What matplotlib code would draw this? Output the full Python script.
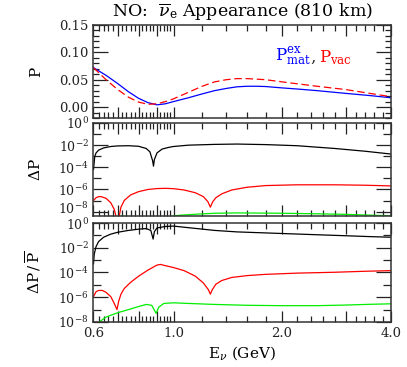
import numpy as np
import matplotlib
matplotlib.use("Agg")
import matplotlib.pyplot as plt
from matplotlib.ticker import FixedLocator, NullFormatter, FuncFormatter

plt.rcParams['font.family'] = 'DejaVu Serif'
plt.rcParams['mathtext.fontset'] = 'dejavuserif'

# panel 1: probabilities
E_p = [0.60, 0.65, 0.70, 0.75, 0.80, 0.85, 0.90, 0.95, 1.00, 1.10, 1.20, 1.30,
       1.40, 1.50, 1.60, 1.70, 1.80, 2.00, 2.20, 2.50, 3.00, 3.50, 4.00]
P_mat = [0.072, 0.058, 0.043, 0.028, 0.016, 0.008, 0.004, 0.006, 0.010, 0.017, 0.024, 0.030,
         0.034, 0.037, 0.038, 0.038, 0.0375, 0.035, 0.033, 0.030, 0.025, 0.021, 0.017]
E_v = [0.60, 0.65, 0.70, 0.75, 0.80, 0.85, 0.90, 0.95, 1.00, 1.10, 1.20, 1.30,
       1.40, 1.50, 1.60, 1.80, 2.00, 2.50, 3.00, 3.50, 4.00]
P_vac = [0.072, 0.050, 0.032, 0.018, 0.009, 0.005, 0.006, 0.010, 0.015, 0.027, 0.038, 0.046,
         0.050, 0.052, 0.052, 0.050, 0.046, 0.038, 0.032, 0.025, 0.019]

# panel 2: delta P (log10 values)
E_d1 = [0.600, 0.605, 0.61, 0.62, 0.64, 0.67, 0.70, 0.75, 0.80, 0.84, 0.86, 0.875, 0.88,
        0.885, 0.90, 0.93, 0.97, 1.00, 1.10, 1.30, 1.50, 1.80, 2.20, 2.80, 3.40, 4.00]
dP1 = [-4.2, -3.0, -2.7, -2.45, -2.25, -2.12, -2.07, -2.05, -2.1, -2.3, -2.6, -3.4, -3.9,
       -3.3, -2.7, -2.35, -2.2, -2.12, -2.0, -1.93, -1.9, -1.95, -2.05, -2.3, -2.55, -2.8]
E_d2 = [0.600, 0.61, 0.62, 0.63, 0.65, 0.67, 0.685, 0.695, 0.700, 0.705, 0.715, 0.73, 0.76,
        0.80, 0.85, 0.90, 0.95, 1.00, 1.07, 1.15, 1.21, 1.245, 1.265, 1.285, 1.31, 1.36,
        1.45, 1.60, 1.80, 2.20, 2.80, 3.40, 4.00]
dP2 = [-7.0, -6.75, -6.65, -6.65, -6.8, -7.2, -7.8, -8.6, -9.5, -8.6, -7.6, -7.0, -6.5,
       -6.2, -6.0, -5.92, -5.9, -5.93, -6.05, -6.3, -6.65, -7.1, -7.6, -7.1, -6.75, -6.4,
       -6.05, -5.8, -5.65, -5.58, -5.58, -5.62, -5.68]
E_d3 = [0.60, 0.65, 0.70, 0.72, 0.74, 0.80, 0.88, 0.95, 1.00, 1.05, 1.15, 1.30, 1.50,
        2.00, 2.50, 3.00, 3.50, 4.00]
dP3 = [-9.5, -9.0, -8.6, -8.38, -8.5, -8.8, -9.5, -8.8, -8.38, -8.32, -8.24, -8.15, -8.12,
       -8.15, -8.2, -8.25, -8.32, -8.38]

# panel 3: delta P / P (log10 values)
E_r1 = [0.600, 0.603, 0.61, 0.62, 0.64, 0.67, 0.70, 0.75, 0.80, 0.84, 0.865, 0.878, 0.885,
        0.90, 0.95, 1.00, 1.10, 1.30, 1.50, 2.00, 2.50, 3.00, 3.50, 4.00]
rP1 = [-3.3, -2.5, -1.9, -1.5, -1.15, -0.9, -0.75, -0.6, -0.5, -0.45, -0.6, -1.3, -0.7,
       -0.4, -0.28, -0.25, -0.38, -0.6, -0.72, -0.85, -0.95, -1.03, -1.1, -1.15]
E_r2 = [0.600, 0.61, 0.62, 0.635, 0.65, 0.67, 0.685, 0.697, 0.705, 0.715, 0.73, 0.76, 0.80,
        0.85, 0.90, 0.92, 0.95, 1.00, 1.07, 1.15, 1.21, 1.25, 1.265, 1.28, 1.31, 1.36,
        1.45, 1.60, 1.80, 2.20, 2.80, 3.40, 4.00]
rP2 = [-5.95, -5.55, -5.45, -5.45, -5.6, -5.95, -6.5, -7.0, -6.3, -5.75, -5.3, -4.8, -4.3,
       -3.8, -3.4, -3.35, -3.45, -3.6, -3.85, -4.3, -4.85, -5.4, -5.75, -5.4, -4.95, -4.65,
       -4.4, -4.25, -4.15, -4.05, -3.98, -3.9, -3.85]
E_r3 = [0.62, 0.625, 0.65, 0.70, 0.75, 0.80, 0.84, 0.87, 0.895, 0.91, 0.94, 1.00, 1.10,
        1.30, 1.60, 2.00, 2.50, 3.00, 3.50, 4.00]
rP3 = [-8.05, -7.96, -7.6, -7.25, -7.0, -6.75, -6.58, -6.65, -7.3, -6.8, -6.5, -6.45, -6.5,
       -6.58, -6.65, -6.68, -6.68, -6.63, -6.57, -6.53]

xlabels = {0.6: "0.6", 1.0: "1.0", 2.0: "2.0", 4.0: "4.0"}

fig = plt.figure(figsize=(4.07, 3.67), dpi=100)
ax1 = fig.add_axes([0.2297, 0.6785, 0.7303, 0.2534])
ax2 = fig.add_axes([0.2297, 0.4114, 0.7303, 0.2534])
ax3 = fig.add_axes([0.2297, 0.1226, 0.7303, 0.2698])

green = '#00ee00'
lw = 0.9
ax1.plot(E_p, P_mat, color='blue', lw=lw)
ax1.plot(E_v, P_vac, color='red', lw=lw, dashes=(6, 3))

ax2.plot(E_d1, 10.0 ** np.array(dP1), color='black', lw=lw)
ax2.plot(E_d2, 10.0 ** np.array(dP2), color='red', lw=lw)
ax2.plot(E_d3, 10.0 ** np.array(dP3), color=green, lw=lw)

ax3.plot(E_r1, 10.0 ** np.array(rP1), color='black', lw=lw)
ax3.plot(E_r2, 10.0 ** np.array(rP2), color='red', lw=lw)
ax3.plot(E_r3, 10.0 ** np.array(rP3), color=green, lw=lw)

major_x = [0.6, 0.7, 0.8, 0.9, 1.0, 2.0, 3.0, 4.0]
minor_x = [v for v in np.round(np.arange(0.62, 1.0, 0.02), 2) if v not in (0.7, 0.8, 0.9)]
minor_x += [v for v in np.round(np.arange(1.2, 4.0, 0.2), 1) if v not in (2.0, 3.0)]


def make_logfmt(skip):
    def f(v, pos):
        e = int(round(np.log10(v)))
        if e == skip:
            return ""
        return r"$10^{%d}$" % e
    return f


for ax in (ax1, ax2, ax3):
    ax.set_xscale('log')
    ax.set_xlim(0.6, 4.0)
    ax.xaxis.set_major_locator(FixedLocator(major_x))
    ax.xaxis.set_minor_locator(FixedLocator(minor_x))
    ax.xaxis.set_major_formatter(FuncFormatter(lambda v, p: xlabels.get(round(v, 1), "")))
    ax.xaxis.set_minor_formatter(NullFormatter())
    ax.tick_params(which='both', direction='in', top=True, right=True, width=0.9,
                   labelsize=9.5, colors='#222222')
    ax.tick_params(which='major', length=8)
    ax.tick_params(which='minor', length=4)
    for s in ax.spines.values():
        s.set_linewidth(1.1)
        s.set_color('#333333')

for ax in (ax1, ax2):
    ax.tick_params(labelbottom=False)

ax1.set_ylim(-0.02, 0.15)
ax1.yaxis.set_major_locator(FixedLocator([0.0, 0.05, 0.10, 0.15]))
ax1.yaxis.set_minor_locator(FixedLocator(np.round(np.arange(-0.02, 0.15, 0.01), 2)))
ax1.yaxis.set_major_formatter(FuncFormatter(lambda v, p: "%.2f" % v))
ax1.tick_params(axis='y', which='major', length=11)

ax2.set_yscale('log')
ax2.set_ylim(10 ** -8.4, 1.0)
ax3.set_yscale('log')
ax3.set_ylim(1e-8, 1.0)
for ax, skip in ((ax2, -8), (ax3, 0)):
    ax.yaxis.set_major_locator(FixedLocator([1e-8, 1e-6, 1e-4, 1e-2, 1.0]))
    ax.yaxis.set_minor_locator(FixedLocator([1e-9, 1e-7, 1e-5, 1e-3, 1e-1]))
    ax.yaxis.set_major_formatter(FuncFormatter(make_logfmt(skip)))
    ax.yaxis.set_minor_formatter(NullFormatter())
    ax.tick_params(axis='y', which='major', length=11, labelsize=9)
    ax.tick_params(axis='y', which='minor', length=6)

# the two stacked labels between panels 2 and 3, nudged apart
ax2.annotate(r"$10^{-8}$", xy=(0, 1e-8), xycoords=('axes fraction', 'data'),
             xytext=(-3.5, 1.5), textcoords='offset points', ha='right', va='center',
             fontsize=9, color='#222222')
ax3.annotate(r"$10^{0}$", xy=(0, 1.0), xycoords=('axes fraction', 'data'),
             xytext=(-3.5, -1.5), textcoords='offset points', ha='right', va='center',
             fontsize=9, color='#222222')

ax1.set_ylabel("P", fontsize=11)
ax2.set_ylabel(r"$\Delta$P", fontsize=11)
ax3.set_ylabel(r"$\Delta$P$\,/\,\overline{\rm P}$", fontsize=11)
for ax in (ax1, ax2, ax3):
    ax.yaxis.set_label_coords(-0.17, 0.5)

ax3.set_xlabel(r"E$_\nu$ (GeV)", fontsize=11, labelpad=3)

fig.text(0.595, 0.965, r"NO:  $\overline{\nu}_{\rm e}$ Appearance (810 km)",
         ha='center', va='center', fontsize=12.5)

t1 = ax1.text(0.61, 0.66, r"P$^{\rm ex}_{\rm mat}$", color='blue', fontsize=12,
              transform=ax1.transAxes, ha='left', va='center')
t2 = ax1.annotate(",", xy=(1.0, 0.25), xycoords=t1, color='#333333', fontsize=12,
                  ha='left', va='baseline')
ax1.annotate(r"P$_{\rm vac}$", xy=(1.0, 0.5), xycoords=t2, xytext=(2, 0),
             textcoords='offset points', color='red', fontsize=12, ha='left', va='center')

fig.savefig("out.png", dpi=100)
